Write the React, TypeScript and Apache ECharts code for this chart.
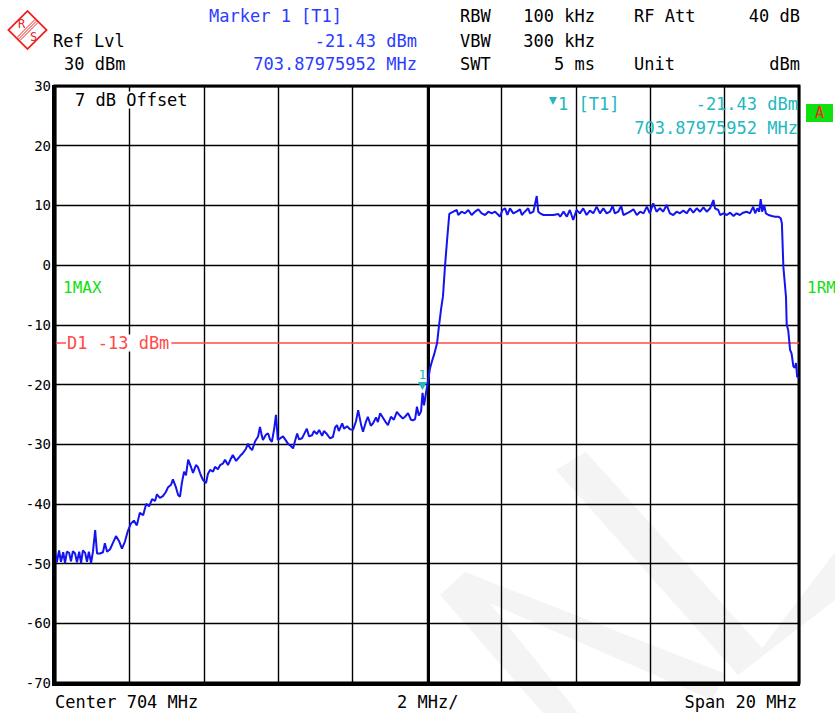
import React, { useEffect, useRef } from "react";
import * as echarts from "echarts";

// ---- data ----
const yTicks = [30, 20, 10, 0, -10, -20, -30, -40, -50, -60, -70];
const centerMHz = 704;
const spanMHz = 20;
const gridStepMHz = 2;
const displayLine = -13;
const marker = { f: 703.87975952, level: -21.43 };

const leftSkirt: [number, number][] = [
  [694.00,-48.0],[694.05,-49.8],[694.11,-47.8],[694.16,-49.7],[694.22,-48.1],[694.27,-49.9],[694.32,-48.0],[694.38,-48.2],
  [694.43,-49.6],[694.48,-47.9],[694.54,-48.3],[694.59,-49.8],[694.65,-48.0],[694.70,-49.9],[694.75,-47.8],[694.81,-48.2],
  [694.86,-49.7],[694.91,-48.0],[694.97,-49.9],[695.02,-48.0],[695.08,-44.4],[695.13,-48.3],[695.21,-48.3],[695.29,-48.1],
  [695.34,-46.6],[695.40,-48.0],[695.48,-47.6],[695.56,-46.5],[695.64,-45.4],[695.72,-46.2],[695.80,-47.5],[695.88,-46.3],
  [695.96,-44.5],[696.04,-43.3],[696.12,-42.8],[696.20,-43.6],[696.28,-41.5],[696.37,-41.9],[696.45,-40.0],[696.53,-40.4],
  [696.61,-39.2],[696.69,-39.5],[696.74,-38.4],[696.82,-39.0],[696.90,-38.7],[696.98,-38.0],[697.04,-37.2],[697.12,-36.8],
  [697.17,-35.9],[697.25,-37.2],[697.31,-38.5],[697.36,-38.8],[697.41,-36.5],[697.47,-34.6],[697.52,-35.2],[697.58,-32.6],
  [697.66,-33.9],[697.71,-34.8],[697.79,-33.5],[697.84,-33.8],[697.92,-35.2],[697.98,-36.0],[698.06,-36.5],[698.11,-35.0],
  [698.17,-34.3],[698.25,-34.6],[698.30,-33.8],[698.38,-34.2],[698.44,-33.5],[698.52,-33.2],[698.57,-32.6],[698.65,-33.5],
  [698.73,-32.4],[698.78,-31.8],[698.87,-32.8],[698.92,-32.4],[699.00,-31.8],[699.05,-31.5],[699.13,-30.8],[699.19,-29.9],
  [699.24,-30.6],[699.30,-31.0],[699.38,-29.5],[699.46,-28.7],[699.51,-27.1],[699.56,-28.6],[699.59,-29.3],[699.67,-28.4],
  [699.73,-28.2],[699.78,-29.2],[699.83,-29.6],[699.89,-27.5],[699.94,-25.1],[699.99,-29.3],[700.08,-28.9],[700.13,-28.7],
  [700.21,-29.4],[700.26,-29.9],[700.34,-30.3],[700.40,-30.7],[700.45,-29.5],[700.51,-28.2],[700.56,-29.2],[700.64,-29.0],
  [700.69,-28.4],[700.77,-27.4],[700.83,-28.7],[700.91,-28.5],[700.96,-27.8],[701.04,-28.3],[701.10,-27.6],[701.18,-28.6],
  [701.23,-27.8],[701.31,-28.3],[701.39,-29.0],[701.47,-28.8],[701.53,-27.2],[701.58,-26.8],[701.63,-27.8],[701.72,-26.5],
  [701.77,-27.4],[701.85,-27.0],[701.93,-27.5],[702.01,-27.6],[702.09,-26.2],[702.15,-24.3],[702.23,-26.8],[702.28,-27.9],
  [702.36,-26.2],[702.41,-25.4],[702.49,-26.9],[702.55,-26.5],[702.63,-25.5],[702.68,-26.3],[702.74,-24.8],[702.82,-25.6],
  [702.90,-26.4],[702.95,-26.8],[703.03,-25.4],[703.11,-25.9],[703.19,-24.6],[703.27,-25.2],[703.35,-25.7],[703.41,-25.4],
  [703.49,-24.8],[703.57,-25.9],[703.62,-26.0],[703.68,-25.8],[703.73,-23.7],[703.78,-25.2],[703.84,-24.5],[703.88,-21.4],
  [703.92,-23.5],[703.97,-21.5],[704.03,-19.4],[704.08,-17.3],[704.13,-16.2],[704.19,-15.0],[704.27,-13.1],[704.32,-10.3],
  [704.38,-7.3],[704.43,-5.2],[704.48,-0.5],[704.54,4.2],[704.60,8.6],
];

const carrierTop: [number, number][] = [
  [704.62,8.67],[704.71,8.95],[704.80,9.23],[704.84,8.39],[704.93,8.95],[705.02,8.67],[705.11,9.23],[705.20,8.39],
  [705.29,8.95],[705.38,9.34],[705.47,8.67],[705.56,8.39],[705.65,8.95],[705.74,8.67],[705.83,8.95],[705.92,8.39],
  [705.96,8.11],[706.03,9.23],[706.10,9.51],[706.16,8.39],[706.23,9.51],[706.32,8.67],[706.41,8.95],[706.50,9.34],
  [706.55,8.39],[706.63,8.95],[706.72,9.51],[706.77,8.67],[706.86,8.95],[706.95,11.57],[706.99,8.95],[707.04,8.67],
  [707.13,8.39],[707.40,8.39],[707.53,8.56],[707.58,8.11],[707.67,8.95],[707.76,8.11],[707.84,9.23],[707.93,7.55],
  [708.02,9.23],[708.11,8.67],[708.20,9.51],[708.29,8.39],[708.38,9.12],[708.47,8.67],[708.56,9.79],[708.65,8.67],
  [708.74,9.51],[708.83,8.67],[708.92,8.95],[708.99,9.90],[709.05,8.67],[709.14,8.95],[709.22,9.90],[709.28,8.39],
  [709.37,8.67],[709.46,8.95],[709.55,9.34],[709.64,8.39],[709.73,8.95],[709.82,8.67],[709.91,9.79],[709.99,8.67],
  [710.08,10.35],[710.17,8.95],[710.26,9.51],[710.35,8.95],[710.44,10.07],[710.53,8.67],[710.62,8.39],[710.71,8.95],
  [710.80,8.67],[710.89,9.12],[710.98,8.67],[711.07,9.51],[711.16,8.78],[711.25,9.51],[711.34,8.95],[711.43,9.68],
  [711.52,8.95],[711.61,9.51],[711.70,10.90],[711.74,9.51],[711.83,9.23],[711.88,8.39],[711.97,8.67],[712.06,8.39],
  [712.15,8.78],[712.24,8.22],[712.32,8.67],[712.41,8.39],[712.50,8.78],[712.59,8.95],[712.68,8.67],[712.77,9.79],
  [712.82,8.67],[712.88,9.51],[712.93,8.95],[712.97,11.07],[713.01,8.95],[713.06,10.07],[713.11,8.67],[713.18,8.39],
  [713.27,8.22],[713.36,8.11],[713.45,8.11],[713.51,7.83],[713.54,7.00],
];

const rightSkirt: [number, number][] = [
  [713.58,-0.3],[713.65,-5.3],[713.67,-10.0],[713.71,-10.9],[713.76,-14.2],[713.80,-14.8],
  [713.85,-17.0],[713.89,-17.2],[713.92,-16.4],[713.95,-18.7],[714.00,-18.9],
];

const headerLeft = ["Ref Lvl", "30 dBm"];
const markerHeader = ["Marker 1 [T1]", "-21.43 dBm", "703.87975952 MHz"];
const settings = [
  ["RBW", "100 kHz", "RF Att", "40 dB"],
  ["VBW", "300 kHz", "", ""],
  ["SWT", "5 ms", "Unit", "dBm"],
];
const footer = ["Center 704 MHz", "2 MHz/", "Span 20 MHz"];

// ---- styles ----
const FONT = '"DejaVu Sans Mono", "Liberation Mono", monospace';
const BLUE = "#2c3cff";
const TRACE = "#1414f0";
const CYAN = "#22b8c0";
const RED = "#ff4a4a";
const GREEN = "#10e010";

function txt(text: string, x: number, y: number, fill: string, align = "left", size = 17, extra: any = {}) {
  return {
    type: "text",
    x,
    y,
    z: 100,
    silent: true,
    style: {
      text,
      fill,
      font: `${size}px ${FONT}`,
      align,
      verticalAlign: "middle",
      textAlign: align,
      textVerticalAlign: "middle",
      ...extra,
    },
  };
}

export default function App() {
  const ref = useRef<HTMLDivElement>(null);
  useEffect(() => {
    document.body.style.margin = "0";
    document.body.style.overflow = "hidden";
    if (!ref.current) return;
    const chart = echarts.init(ref.current, null, { renderer: "svg" });
    const trace = [...leftSkirt, ...carrierTop, ...rightSkirt];
    const fMin = centerMHz - spanMHz / 2;
    const fMax = centerMHz + spanMHz / 2;

    const graphics: any[] = [];
    // watermark (faint)
    const wm = "#f4f4f4";
    const wmShapes = [
      [[440, 595], [465, 572], [578, 713], [543, 713]],
      [[465, 572], [478, 598], [712, 700], [726, 674]],
      [[556, 470], [586, 452], [762, 648], [738, 675]],
      [[738, 675], [762, 648], [835, 552], [835, 600]],
    ];
    wmShapes.forEach((pts) =>
      graphics.push({ type: "polygon", z: -5, silent: true, shape: { points: pts }, style: { fill: wm } })
    );
    // logo
    graphics.push({
      type: "group",
      x: 27.5,
      y: 30,
      z: 100,
      children: [
        {
          type: "rect",
          rotation: Math.PI / 4,
          shape: { x: -13.5, y: -13.5, width: 27, height: 27 },
          style: { fill: "#fff", stroke: "#ee2222", lineWidth: 1.8 },
        },
        { type: "line", shape: { x1: -9, y1: 9, x2: 9, y2: -9 }, style: { stroke: "#ee2222", lineWidth: 1 } },
        { type: "line", shape: { x1: -7.5, y1: 10.5, x2: 10.5, y2: -7.5 }, style: { stroke: "#ee2222", lineWidth: 1 } },
        { type: "line", shape: { x1: -10.5, y1: 7.5, x2: 7.5, y2: -10.5 }, style: { stroke: "#ee2222", lineWidth: 1 } },
        { type: "text", x: -6, y: -6, style: { text: "R", fill: "#ee2222", font: `12px ${FONT}`, align: "center", verticalAlign: "middle", textAlign: "center", textVerticalAlign: "middle" } },
        { type: "text", x: 6, y: 7, style: { text: "S", fill: "#ee2222", font: `12px ${FONT}`, align: "center", verticalAlign: "middle", textAlign: "center", textVerticalAlign: "middle" } },
      ],
    });
    // header
    graphics.push(txt(headerLeft[0], 53, 41, "#000"));
    graphics.push(txt(headerLeft[1], 64, 64, "#000"));
    graphics.push(txt(markerHeader[0], 209, 16, BLUE));
    graphics.push(txt(markerHeader[1], 417, 41, BLUE, "right"));
    graphics.push(txt(markerHeader[2], 417, 64, BLUE, "right"));
    const rowsY = [16, 41, 64];
    settings.forEach((row, i) => {
      const y = rowsY[i];
      graphics.push(txt(row[0], 460, y, "#000"));
      if (row[1]) graphics.push(txt(row[1], 595, y, "#000", "right"));
      if (row[2]) graphics.push(txt(row[2], 634, y, "#000"));
      if (row[3]) graphics.push(txt(row[3], 800, y, "#000", "right"));
    });
    // inside plot
    graphics.push(txt("7 dB Offset", 75, 100, "#000", "left", 17, { backgroundColor: "#fff" }));
    graphics.push(txt("1MAX", 63, 287, GREEN, "left", 16));
    graphics.push(txt("1RM", 807, 287, GREEN, "left", 16));
    graphics.push({
      type: "polygon",
      z: 100,
      shape: { points: [[549, 97], [557, 97], [553, 105]] },
      style: { fill: CYAN },
    });
    graphics.push(txt("1 [T1]", 558, 104, CYAN));
    graphics.push(txt(markerHeader[1], 798, 104, CYAN, "right"));
    graphics.push(txt(markerHeader[2], 798, 128, CYAN, "right"));
    graphics.push({ type: "rect", z: 100, shape: { x: 806, y: 104, width: 27, height: 18 }, style: { fill: GREEN } });
    graphics.push(txt("A", 819.5, 113, "#ff2020", "center", 15));
    graphics.push(
      txt("D1 -13 dBm", 66, 343, RED, "left", 17, { backgroundColor: "#fff", padding: [0, 2, 0, 1] })
    );
    // thicker left / bottom frame edges
    graphics.push({ type: "line", z: 50, shape: { x1: 54, y1: 85, x2: 54, y2: 685 }, style: { stroke: "#000", lineWidth: 4 } });
    graphics.push({ type: "line", z: 50, shape: { x1: 52, y1: 684, x2: 800, y2: 684 }, style: { stroke: "#000", lineWidth: 4 } });
    // footer
    graphics.push(txt(footer[0], 55, 702, "#000"));
    graphics.push(txt(footer[1], 397, 702, "#000"));
    graphics.push(txt(footer[2], 797, 702, "#000", "right"));

    chart.setOption({
      animation: false,
      backgroundColor: "#fff",
      grid: {
        left: 55,
        right: 36,
        top: 86,
        bottom: 30,
        show: true,
        borderColor: "#000",
        borderWidth: 3,
        backgroundColor: "transparent",
        z: 1,
      },
      xAxis: {
        type: "value",
        min: fMin,
        max: fMax,
        interval: gridStepMHz,
        axisLine: { show: false },
        axisTick: { show: false },
        axisLabel: { show: false },
        splitLine: { show: true, lineStyle: { color: "#000", width: 1.4 } },
      },
      yAxis: {
        type: "value",
        min: yTicks[yTicks.length - 1],
        max: yTicks[0],
        interval: 10,
        axisLine: { show: false },
        axisTick: { show: false },
        axisLabel: {
          show: true,
          color: "#000",
          fontFamily: FONT,
          fontSize: 14,
          margin: 4,
        },
        splitLine: { show: true, lineStyle: { color: "#000", width: 1.4 } },
      },
      graphic: { elements: graphics },
      series: [
        {
          type: "line",
          data: trace,
          showSymbol: false,
          symbol: "none",
          lineStyle: { color: TRACE, width: 2 },
          z: 5,
          markLine: {
            silent: true,
            symbol: "none",
            label: { show: false },
            data: [
              { xAxis: centerMHz + 0.04, lineStyle: { color: "#000", width: 3, type: "solid" } },
              { yAxis: displayLine, lineStyle: { color: RED, width: 1.5, type: "solid" } },
            ],
          },
          markPoint: {
            silent: true,
            data: [
              {
                coord: [marker.f, marker.level],
                symbol: "triangle",
                symbolSize: [9, 8],
                symbolRotate: 180,
                symbolOffset: [0, -7],
                itemStyle: { color: CYAN },
                label: {
                  show: true,
                  formatter: "1",
                  position: "top",
                  distance: 1,
                  color: CYAN,
                  fontFamily: FONT,
                  fontSize: 13,
                },
              },
            ],
          },
        },
      ],
    });
    return () => chart.dispose();
  }, []);
  return <div ref={ref} style={{ width: 835, height: 713 }} />;
}
